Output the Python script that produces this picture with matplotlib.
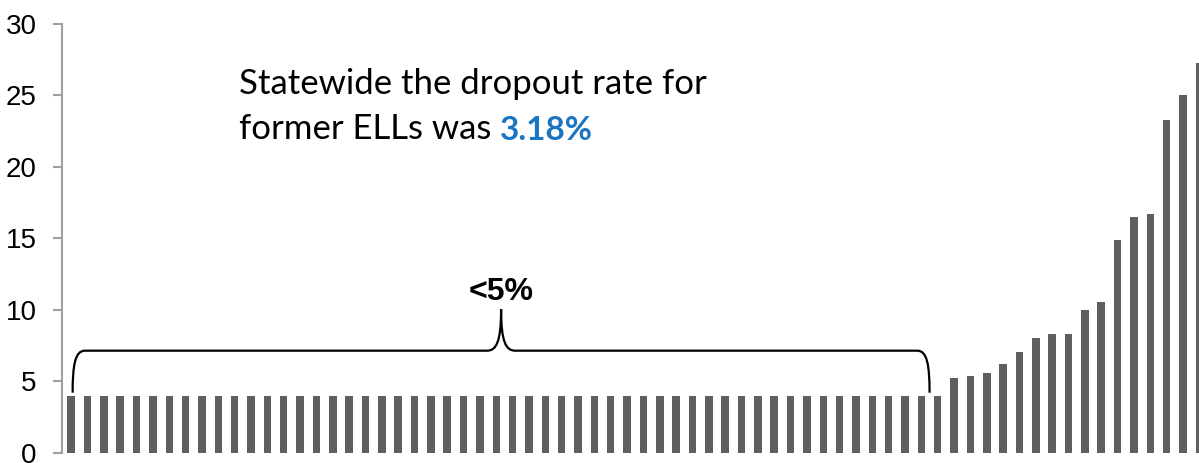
import numpy as np
import matplotlib.pyplot as plt
from matplotlib.path import Path
from matplotlib.patches import PathPatch

plt.rcParams['font.family'] = ['Liberation Sans', 'DejaVu Sans']

# dropout rates by district (sorted), percent
low_rates = [4.0, 4.0, 4.0, 4.0, 4.0, 4.0, 4.0, 4.0, 4.0, 4.0,
             4.0, 4.0, 4.0, 4.0, 4.0, 4.0, 4.0, 4.0, 4.0, 4.0,
             4.0, 4.0, 4.0, 4.0, 4.0, 4.0, 4.0, 4.0, 4.0, 4.0,
             4.0, 4.0, 4.0, 4.0, 4.0, 4.0, 4.0, 4.0, 4.0, 4.0,
             4.0, 4.0, 4.0, 4.0, 4.0, 4.0, 4.0, 4.0, 4.0, 4.0,
             4.0, 4.0, 4.0, 4.0]
high_rates = [5.25, 5.37, 5.58, 6.23, 7.03, 8.03, 8.31, 8.31, 10.0, 10.52,
              14.9, 16.47, 16.68, 23.28, 25.0, 27.3]
rates = low_rates + high_rates
yticks = [0, 5, 10, 15, 20, 25, 30]

x = np.arange(len(rates))

fig = plt.figure(figsize=(11.99, 4.63), dpi=100)
ax = fig.add_axes([0.052, 0.0222, 0.948, 0.926])

ax.bar(x, rates, width=0.46, color='#5f5f5f')

ax.set_xlim(-0.54, len(rates) - 1.02)
ax.set_ylim(0, 30)
ax.set_yticks(yticks)
ax.set_xticks([])
for s in ['top', 'right', 'bottom']:
    ax.spines[s].set_visible(False)
ax.spines['left'].set_color('#a0a0a0')
ax.spines['left'].set_linewidth(1.5)
ax.tick_params(axis='y', length=6.5, width=1.5, color='#a0a0a0', pad=12,
               labelsize=20)

# curly brace over the districts below 5%
x0 = 0.09
x1 = len(low_rates) - 1.5
xm = (x0 + x1) / 2
yb, yh, yt = 4.2, 7.14, 10.03
verts = [(x0, yb), (x0, yh - 1.0), (x0 + 0.15, yh), (x0 + 0.75, yh),
         (xm - 0.86, yh),
         (xm - 0.3, yh), (xm, yh + 0.6), (xm, yt),
         (xm, yh + 0.6), (xm + 0.3, yh), (xm + 0.86, yh),
         (x1 - 0.75, yh),
         (x1 - 0.15, yh), (x1, yh - 1.0), (x1, yb)]
codes = [Path.MOVETO, Path.CURVE4, Path.CURVE4, Path.CURVE4,
         Path.LINETO,
         Path.CURVE4, Path.CURVE4, Path.CURVE4,
         Path.CURVE4, Path.CURVE4, Path.CURVE4,
         Path.LINETO,
         Path.CURVE4, Path.CURVE4, Path.CURVE4]
ax.add_patch(PathPatch(Path(verts, codes), fill=False, lw=1.6,
                       edgecolor='black', clip_on=False))
ax.text(xm, 10.67, '<5%', ha='center', va='baseline', fontsize=23,
        fontweight='bold')

# statewide note
ax.text(10.25, 25.1, 'Statewide the dropout rate for', fontsize=25,
        fontfamily='Lato', va='baseline')
t2 = ax.text(10.25, 21.55, 'former ELLs was ', fontsize=25,
             fontfamily='Lato', va='bottom')
ax.annotate('3.18%', xy=(1, 0), xycoords=t2, va='bottom', ha='left',
            fontsize=24, fontfamily='Lato', fontweight='bold',
            color='#1a75c2')

plt.savefig('out.png', dpi=100)
